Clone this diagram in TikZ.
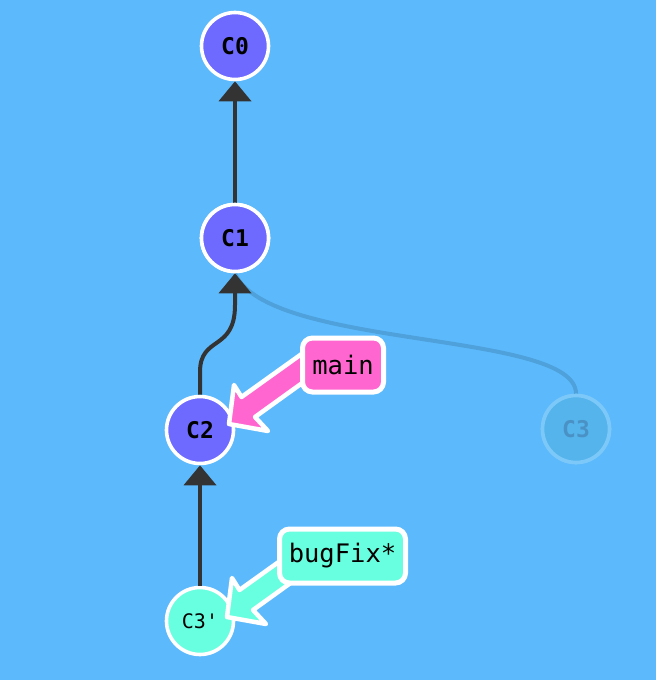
\documentclass[tikz,border=0pt]{standalone}
\usepackage{fontspec}
\setmonofont{DejaVu Sans Mono}
\usetikzlibrary{arrows.meta}
\definecolor{bg}{HTML}{5CBAFC}
\definecolor{cpurple}{HTML}{6E6AFF}
\definecolor{cteal}{HTML}{68FFE0}
\definecolor{cpink}{HTML}{FF66CF}
\definecolor{ghostfill}{HTML}{55B4EC}
\definecolor{ghostdraw}{HTML}{7CC8F8}
\definecolor{ghosttext}{HTML}{4A92C6}
\definecolor{ghostline}{HTML}{4EA1DA}
\definecolor{edgec}{HTML}{333333}
\tikzset{
  commit/.style={circle, minimum size=67pt, inner sep=0pt, draw=white, line width=3.6pt,
    fill=cpurple, font=\ttfamily\bfseries\fontsize{23}{23}\selectfont, text=black},
  ghost/.style={commit, fill=ghostfill, draw=ghostdraw, text=ghosttext},
  newcommit/.style={commit, fill=cteal, font=\ttfamily\fontsize{20}{20}\selectfont},
  parentedge/.style={draw=edgec, line width=4pt, -{Triangle[length=20pt,width=32pt]}},
  ghostedge/.style={draw=ghostline, line width=4pt},
  branchlabel/.style={rectangle, rounded corners=10pt, draw=white, line width=5pt,
    minimum height=54pt, inner sep=0pt, font=\ttfamily\fontsize{25.5}{25.5}\selectfont, text=black},
  branchptr/.style={draw=white, line width=4.5pt, line join=round}
}
\begin{document}
\begin{tikzpicture}[x=1pt,y=-1pt]
\fill[bg] (0,0) rectangle (656,680);
\useasboundingbox (0,0) rectangle (656,680);

% ghost commit and its parent link
\node[ghost] (c3) at (576,429) {C3};
\node[commit] (c1) at (235,238) {C1};
\draw[ghostedge] (c3.north) .. controls (576,330) and (268,350) .. (c1.south);
\node[ghost] at (c3) {C3};

% commits
\node[commit] (c0) at (235,46) {C0};
\node[commit] (c2) at (200,430) {C2};
\node[newcommit] (c3p) at (200,621) {C3'};

% parent edges
\draw[parentedge] (c1) -- (c0);
\draw[parentedge] (c2.north) -- (200,372) .. controls (200,335) and (235,352) .. (235,305) -- (c1.south);
\draw[parentedge] (c3p) -- (c2);
\node[commit] at (c1) {C1};

% branch pointers
\begin{scope}[shift={(229,424)}]
  \filldraw[branchptr, fill=cpink] (0,0) -- (5,-39) -- (12.5,-27) -- (74,-71) -- (76,-43) -- (26,-7) -- (39,7) -- cycle;
\end{scope}
\node[branchlabel, fill=cpink, minimum width=81pt] (main) at (343,365) {main};

\begin{scope}[shift={(227,617)}]
  \filldraw[branchptr, fill=cteal] (0,0) -- (5,-39) -- (12.5,-27) -- (74,-71) -- (76,-43) -- (26,-7) -- (39,7) -- cycle;
\end{scope}
\node[branchlabel, fill=cteal, minimum width=126pt] (bugfix) at (342.5,556) {bugFix*};
\end{tikzpicture}
\end{document}
